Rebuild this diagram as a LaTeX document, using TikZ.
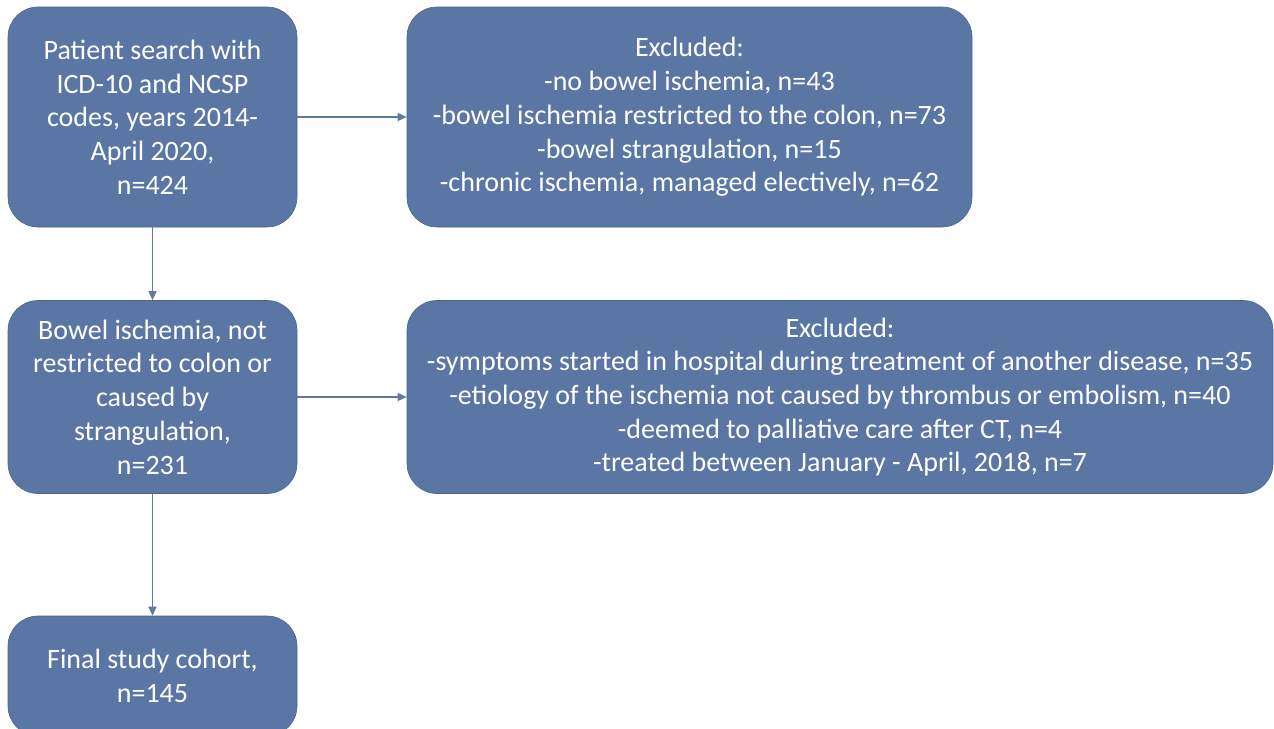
\documentclass[tikz,border=0pt]{standalone}
\usepackage{fontspec}
\setmainfont{Carlito}
\usetikzlibrary{arrows.meta}
\definecolor{boxblue}{RGB}{89,118,165}
\definecolor{linecol}{RGB}{100,120,160}
\begin{document}
\begin{tikzpicture}[x=1pt,y=-1pt,
  flowbox/.style={draw=boxblue!85!black, line width=0.6pt, fill=boxblue, rounded corners=30pt, text=white, align=center, inner sep=0pt,
    font=\fontsize{28}{33.7}\selectfont},
  conn/.style={draw=linecol, line width=1.3pt, -{Triangle[length=9pt,width=8pt]}}]
\useasboundingbox (0,0) rectangle (1274,728);
\begin{scope}
\clip (0,0) rectangle (1274,728);
\node[flowbox, minimum width=289pt, minimum height=220pt] (b1) at (152.5,117)
  {Patient search with\\ICD-10 and NCSP\\codes, years 2014-\\April 2020,\\n=424};
\node[flowbox, minimum width=565pt, minimum height=220pt] (b2) at (689.5,117)
  {Excluded:\\-no bowel ischemia, n=43\\-bowel ischemia restricted to the colon, n=73\\-bowel strangulation, n=15\\-chronic ischemia, managed electively, n=62};
\node[flowbox, minimum width=289pt, minimum height=193pt] (b3) at (152.5,397)
  {Bowel ischemia, not\\restricted to colon or\\caused by\\strangulation,\\n=231};
\node[flowbox, minimum width=866pt, minimum height=193pt] (b4) at (840,397)
  {Excluded:\\-symptoms started in hospital during treatment of another disease, n=35\\-etiology of the ischemia not caused by thrombus or embolism, n=40\\-deemed to palliative care after CT, n=4\\-treated between January - April, 2018, n=7};
\node[flowbox, minimum width=289pt, minimum height=120pt] (b5) at (152.5,676)
  {Final study cohort,\\n=145};
\end{scope}
\draw[conn] (b1) -- (b2);
\draw[conn] (b1) -- (b3);
\draw[conn] (b3) -- (b4);
\draw[conn] (b3) -- (b5);
\end{tikzpicture}
\end{document}
